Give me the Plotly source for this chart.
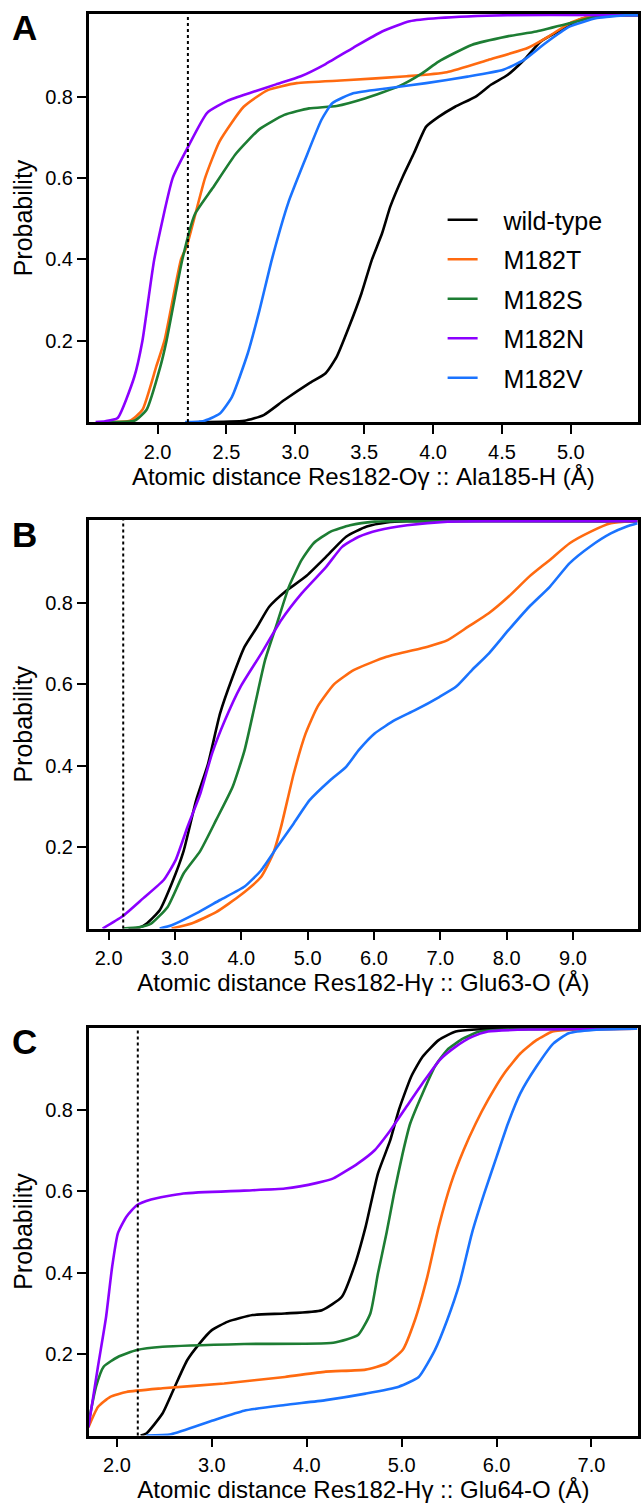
import plotly.graph_objects as go

# ---------------- data ----------------
SERIES = ["wild-type", "M182T", "M182S", "M182N", "M182V"]
COLORS = ["#000000", "#ff6a10", "#1d7d33", "#8b00ff", "#1a73ff"]
THRESHOLD = 2.22

# Panel A : Res182-Oγ :: Ala185-H
a_wt_x = [2.30, 2.63, 2.77, 2.92, 3.10, 3.22, 3.30, 3.39, 3.48, 3.555, 3.63, 3.69, 3.78, 3.86, 3.95, 4.04, 4.16, 4.31, 4.42, 4.54, 4.66, 4.78, 4.93, 5.07, 5.25, 5.49]
a_wt_p = [0.0, 0.003, 0.017, 0.054, 0.095, 0.12, 0.16, 0.234, 0.316, 0.398, 0.464, 0.53, 0.603, 0.66, 0.726, 0.75, 0.775, 0.80, 0.829, 0.853, 0.89, 0.935, 0.964, 0.99, 1.0, 1.0]
a_t_x = [1.62, 1.80, 1.89, 1.99, 2.05, 2.17, 2.21, 2.345, 2.45, 2.625, 2.80, 3.01, 3.36, 3.81, 4.10, 4.40, 4.69, 4.84, 4.99, 5.13, 5.34, 5.49]
a_t_p = [0.0, 0.003, 0.03, 0.136, 0.2, 0.4, 0.43, 0.6, 0.69, 0.775, 0.816, 0.833, 0.84, 0.85, 0.86, 0.89, 0.92, 0.948, 0.98, 0.997, 1.0, 1.0]
a_s_x = [1.62, 1.83, 1.92, 2.02, 2.065, 2.18, 2.27, 2.40, 2.57, 2.74, 2.92, 3.10, 3.30, 3.51, 3.75, 3.92, 4.04, 4.28, 4.54, 4.75, 4.99, 5.16, 5.37, 5.49]
a_s_p = [0.0, 0.003, 0.03, 0.136, 0.2, 0.4, 0.51, 0.575, 0.66, 0.72, 0.755, 0.771, 0.777, 0.796, 0.825, 0.857, 0.886, 0.927, 0.948, 0.96, 0.98, 0.995, 1.0, 1.0]
a_n_x = [1.55, 1.62, 1.71, 1.83, 1.89, 1.976, 2.11, 2.21, 2.36, 2.51, 2.68, 2.86, 3.04, 3.22, 3.42, 3.63, 3.83, 4.04, 4.54, 5.49]
a_n_p = [0.0, 0.002, 0.01, 0.11, 0.2, 0.4, 0.6, 0.669, 0.76, 0.79, 0.81, 0.83, 0.85, 0.88, 0.92, 0.96, 0.985, 0.993, 1.0, 1.0]
a_v_x = [2.20, 2.33, 2.45, 2.54, 2.655, 2.74, 2.83, 2.95, 3.07, 3.19, 3.27, 3.42, 3.66, 3.95, 4.25, 4.51, 4.66, 4.81, 4.99, 5.19, 5.40, 5.49]
a_v_p = [0.0, 0.002, 0.02, 0.062, 0.169, 0.275, 0.40, 0.54, 0.644, 0.743, 0.784, 0.808, 0.82, 0.833, 0.849, 0.866, 0.89, 0.93, 0.972, 0.993, 1.0, 1.0]

# Panel B : Res182-Hγ :: Glu63-O
b_wt_x = [2.30, 2.46, 2.58, 2.77, 2.95, 3.13, 3.32, 3.50, 3.68, 3.87, 4.05, 4.24, 4.42, 4.66, 4.97, 5.28, 5.58, 5.89, 6.19, 6.50, 9.97]
b_wt_p = [0.0, 0.002, 0.013, 0.045, 0.11, 0.19, 0.315, 0.405, 0.528, 0.618, 0.692, 0.741, 0.79, 0.827, 0.864, 0.913, 0.962, 0.987, 0.997, 1.0, 1.0]
b_t_x = [2.95, 3.26, 3.62, 3.99, 4.30, 4.48, 4.60, 4.79, 4.97, 5.15, 5.40, 5.70, 6.19, 6.81, 7.11, 7.42, 7.73, 8.03, 8.34, 8.65, 8.95, 9.26, 9.57, 9.88, 9.97]
b_t_p = [0.0, 0.013, 0.04, 0.082, 0.127, 0.184, 0.25, 0.38, 0.479, 0.545, 0.60, 0.635, 0.667, 0.692, 0.708, 0.741, 0.774, 0.815, 0.864, 0.905, 0.946, 0.974, 0.995, 1.0, 1.0]
b_s_x = [2.21, 2.45, 2.64, 2.89, 3.13, 3.38, 3.62, 3.87, 4.05, 4.20, 4.36, 4.54, 4.72, 4.91, 5.09, 5.34, 5.64, 6.01, 6.30, 9.97]
b_s_p = [0.0, 0.003, 0.012, 0.053, 0.135, 0.19, 0.266, 0.348, 0.438, 0.545, 0.66, 0.75, 0.84, 0.905, 0.946, 0.974, 0.99, 0.999, 1.0, 1.0]
b_n_x = [1.91, 2.21, 2.52, 2.83, 3.01, 3.19, 3.38, 3.56, 3.75, 3.99, 4.30, 4.60, 4.91, 5.28, 5.52, 5.77, 6.07, 6.50, 7.11, 7.73, 9.97]
b_n_p = [0.0, 0.03, 0.074, 0.119, 0.168, 0.25, 0.33, 0.43, 0.51, 0.594, 0.675, 0.757, 0.823, 0.888, 0.937, 0.962, 0.978, 0.99, 0.999, 1.0, 1.0]
b_v_x = [2.77, 2.95, 3.32, 3.68, 4.05, 4.30, 4.54, 4.79, 5.03, 5.34, 5.58, 5.77, 6.01, 6.32, 6.62, 6.99, 7.24, 7.48, 7.73, 8.03, 8.34, 8.65, 8.95, 9.26, 9.57, 9.81, 9.97]
b_v_p = [0.0, 0.008, 0.037, 0.07, 0.103, 0.143, 0.20, 0.258, 0.315, 0.364, 0.397, 0.438, 0.479, 0.512, 0.536, 0.569, 0.594, 0.635, 0.675, 0.733, 0.79, 0.839, 0.897, 0.938, 0.97, 0.987, 0.995]

# Panel C : Res182-Hγ :: Glu64-O
c_wt_x = [2.25, 2.31, 2.48, 2.61, 2.74, 2.87, 3.00, 3.17, 3.43, 3.77, 4.16, 4.37, 4.50, 4.62, 4.75, 4.88, 4.97, 5.10, 5.22, 5.39, 5.57, 5.78, 6.10, 7.48]
c_wt_p = [0.0, 0.005, 0.054, 0.12, 0.185, 0.226, 0.259, 0.28, 0.296, 0.30, 0.308, 0.341, 0.415, 0.513, 0.644, 0.726, 0.80, 0.882, 0.931, 0.972, 0.993, 0.998, 1.0, 1.0]
c_t_x = [1.70, 1.80, 1.93, 2.10, 2.48, 3.13, 3.77, 4.20, 4.62, 4.84, 5.01, 5.14, 5.27, 5.39, 5.52, 5.65, 5.78, 5.91, 6.08, 6.25, 6.42, 6.59, 6.85, 7.48]
c_t_p = [0.02, 0.07, 0.095, 0.107, 0.116, 0.128, 0.144, 0.157, 0.162, 0.177, 0.21, 0.284, 0.39, 0.513, 0.62, 0.70, 0.767, 0.825, 0.89, 0.939, 0.972, 0.993, 0.998, 1.0]
c_s_x = [1.70, 1.78, 1.86, 2.01, 2.21, 2.48, 3.34, 4.28, 4.54, 4.67, 4.75, 4.84, 4.92, 5.01, 5.09, 5.22, 5.35, 5.48, 5.65, 5.82, 6.12, 7.48]
c_s_p = [0.03, 0.12, 0.169, 0.193, 0.21, 0.218, 0.225, 0.228, 0.247, 0.30, 0.398, 0.497, 0.595, 0.693, 0.767, 0.841, 0.907, 0.948, 0.976, 0.993, 0.998, 1.0]
c_n_x = [1.70, 1.80, 1.885, 1.95, 2.01, 2.10, 2.21, 2.36, 2.70, 3.34, 3.77, 4.11, 4.28, 4.54, 4.71, 4.88, 5.05, 5.22, 5.40, 5.57, 5.74, 5.91, 6.34, 7.48]
c_n_p = [0.02, 0.169, 0.29, 0.415, 0.497, 0.538, 0.566, 0.58, 0.595, 0.602, 0.607, 0.621, 0.632, 0.669, 0.70, 0.75, 0.808, 0.866, 0.923, 0.956, 0.98, 0.993, 0.998, 1.0]
c_v_x = [2.31, 2.57, 3.00, 3.34, 3.77, 4.20, 4.62, 4.97, 5.18, 5.35, 5.48, 5.61, 5.74, 5.87, 6.00, 6.12, 6.25, 6.42, 6.60, 6.76, 7.02, 7.45, 7.48]
c_v_p = [0.0, 0.003, 0.036, 0.061, 0.075, 0.087, 0.103, 0.12, 0.144, 0.21, 0.284, 0.374, 0.497, 0.595, 0.685, 0.767, 0.841, 0.907, 0.964, 0.989, 0.997, 1.0, 1.0]

PANELS = [
    dict(label="A", title="Atomic distance Res182-Oγ :: Ala185-H (Å)",
         xrange=[1.5, 5.488], xticks=[2.0, 2.5, 3.0, 3.5, 4.0, 4.5, 5.0],
         curves=[(a_wt_x, a_wt_p), (a_t_x, a_t_p), (a_s_x, a_s_p), (a_n_x, a_n_p), (a_v_x, a_v_p)]),
    dict(label="B", title="Atomic distance Res182-Hγ :: Glu63-O (Å)",
         xrange=[1.70, 9.98], xticks=[2.0, 3.0, 4.0, 5.0, 6.0, 7.0, 8.0, 9.0],
         curves=[(b_wt_x, b_wt_p), (b_t_x, b_t_p), (b_s_x, b_s_p), (b_n_x, b_n_p), (b_v_x, b_v_p)]),
    dict(label="C", title="Atomic distance Res182-Hγ :: Glu64-O (Å)",
         xrange=[1.703, 7.49], xticks=[2.0, 3.0, 4.0, 5.0, 6.0, 7.0],
         curves=[(c_wt_x, c_wt_p), (c_t_x, c_t_p), (c_s_x, c_s_p), (c_n_x, c_n_p), (c_v_x, c_v_p)]),
]
YTICKS = [0.2, 0.4, 0.6, 0.8]

# ---------------- layout geometry (pixels) ----------------
W, H = 641, 1504
PLOT_LEFT, PLOT_RIGHT = 89, 640
PLOT_TOPS = [14, 520, 1027.5]
PLOT_BOTTOMS = [422, 928.5, 1435.5]
FONT = "Liberation Sans, Arial, sans-serif"
NB = "\u00a0\u00a0\u00a0"

fig = go.Figure()
layout = dict(
    width=W, height=H, margin=dict(l=0, r=0, t=0, b=0),
    paper_bgcolor="white", plot_bgcolor="white",
    font=dict(family=FONT, color="black", size=20),
    showlegend=True,
    legend=dict(x=444 / W, y=1 - 197 / H, xanchor="left", yanchor="top",
                font=dict(size=25, family=FONT), bgcolor="rgba(0,0,0,0)",
                borderwidth=0, traceorder="grouped", tracegroupgap=4),
)
annotations = []
shapes = []

for i, pnl in enumerate(PANELS):
    n = "" if i == 0 else str(i + 1)
    xa, ya = "x" + n, "y" + n
    for j, (xs, ps) in enumerate(pnl["curves"]):
        fig.add_trace(go.Scatter(
            x=xs, y=ps, mode="lines", name=NB + SERIES[j],
            line=dict(color=COLORS[j], width=2.6, shape="spline", smoothing=0.5),
            xaxis=xa, yaxis=ya, legendgroup=SERIES[j],
            showlegend=(i == 0), hoverinfo="skip"))
    common = dict(showline=True, linecolor="black", linewidth=2.5, mirror=True,
                  ticks="outside", ticklen=9, tickwidth=2, tickcolor="black",
                  showgrid=False, zeroline=False,
                  tickfont=dict(size=20, family=FONT, color="black"))
    layout["xaxis" + n] = dict(
        domain=[PLOT_LEFT / W, PLOT_RIGHT / W], anchor=ya,
        range=pnl["xrange"], tickmode="array", tickvals=pnl["xticks"],
        ticktext=[f"{v:.1f}" for v in pnl["xticks"]], ticklabelstandoff=1,
        title=dict(text=pnl["title"], font=dict(size=24, family=FONT), standoff=5),
        **common)
    layout["yaxis" + n] = dict(
        domain=[1 - PLOT_BOTTOMS[i] / H, 1 - PLOT_TOPS[i] / H], anchor=xa,
        range=[0, 1.003], tickmode="array", tickvals=YTICKS,
        ticktext=[f"{v:.1f}" for v in YTICKS],
        title=dict(text="Probability", font=dict(size=25, family=FONT), standoff=6),
        **common)
    shapes.append(dict(type="line", xref=xa, yref=ya + " domain",
                       x0=THRESHOLD, x1=THRESHOLD, y0=0, y1=1,
                       line=dict(color="black", width=2, dash="dot")))
    annotations.append(dict(text="<b>" + pnl["label"] + "</b>", xref="paper", yref="paper",
                            x=10 / W, y=1 - (PLOT_TOPS[i] + 14) / H,
                            xanchor="left", yanchor="middle", showarrow=False,
                            font=dict(size=35, family=FONT, color="black")))

layout["annotations"] = annotations
layout["shapes"] = shapes
fig.update_layout(**layout)
fig.write_html("out.html")
